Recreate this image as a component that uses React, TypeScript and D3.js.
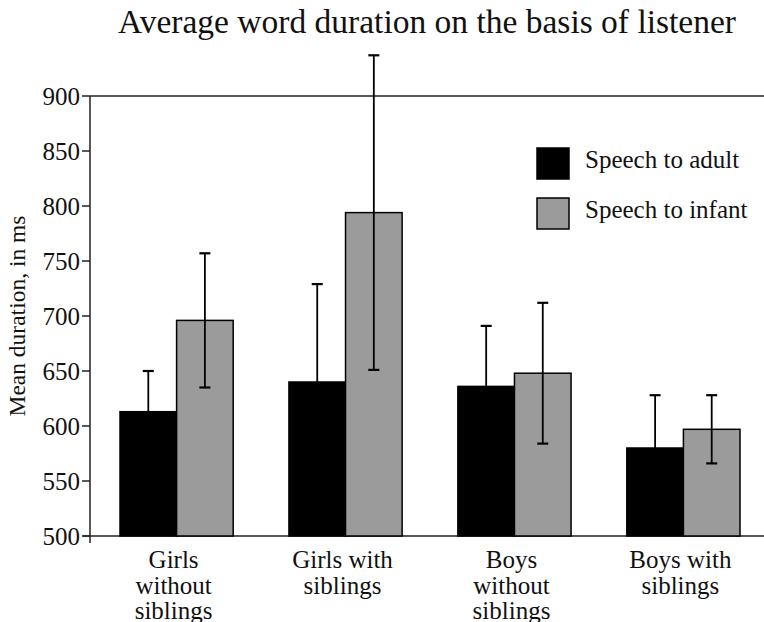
import React from "react";
import * as d3 from "d3";

const categories: string[][] = [
  ["Girls", "without", "siblings"],
  ["Girls with", "siblings"],
  ["Boys", "without", "siblings"],
  ["Boys with", "siblings"],
];
const categoryKeys = ["gwo", "gw", "bwo", "bw"];
const seriesNames = ["Speech to adult", "Speech to infant"];
const adultMeans = [613, 640, 636, 580];
const adultErr = [37, 89, 55, 48];
const infantMeans = [696, 794, 648, 597];
const infantErr = [61, 143, 64, 31];
const yTicks = [500, 550, 600, 650, 700, 750, 800, 850, 900];
const title = "Average word duration on the basis of listener";
const yLabel = "Mean duration, in ms";

const W = 764;
const H = 622;
const FONT = "'Liberation Serif', 'DejaVu Serif', serif";
const GRAY = "#9b9b9b";

export default function App() {
  const x0 = d3
    .scaleBand<string>()
    .domain(categoryKeys)
    .range([120, 740])
    .paddingInner(0.33)
    .paddingOuter(0);
  const x1 = d3
    .scaleBand<string>()
    .domain(seriesNames)
    .range([0, x0.bandwidth()])
    .padding(0);
  const y = d3.scaleLinear().domain([500, 900]).range([536, 96]);

  const series = [
    { name: seriesNames[0], means: adultMeans, errs: adultErr, fill: "#000000" },
    { name: seriesNames[1], means: infantMeans, errs: infantErr, fill: GRAY },
  ];
  const axisX = 90;
  const capHalf = 5.5;

  return (
    <svg
      width={W}
      height={H}
      style={{ position: "absolute", left: 0, top: 0, background: "#fff" }}
      fontFamily={FONT}
    >
      <text x={427} y={33} fontSize={33.5} textAnchor="middle" fill="#111">
        {title}
      </text>

      {/* frame lines */}
      <line x1={axisX} x2={W} y1={y(900)} y2={y(900)} stroke="#222" strokeWidth={1.5} />
      <line x1={axisX - 7} x2={W} y1={y(500)} y2={y(500)} stroke="#222" strokeWidth={1.5} />
      <line x1={axisX} x2={axisX} y1={y(900)} y2={543} stroke="#222" strokeWidth={1.5} />

      {/* y ticks */}
      {y.ticks(8).filter((t) => yTicks.includes(t)).map((t) => (
        <g key={t}>
          <line x1={axisX - 8} x2={axisX} y1={y(t)} y2={y(t)} stroke="#222" strokeWidth={1.5} />
          <text
            x={80}
            y={y(t)}
            dy="0.35em"
            fontSize={25}
            textAnchor="end"
            fill="#111"
          >
            {t}
          </text>
        </g>
      ))}

      <text
        transform={`translate(25,316) rotate(-90)`}
        fontSize={23.5}
        textAnchor="middle"
        fill="#111"
      >
        {yLabel}
      </text>

      {/* bars */}
      {categoryKeys.map((k, i) => (
        <g key={k} transform={`translate(${x0(k)},0)`}>
          {series.map((s) => (
            <rect
              key={s.name}
              x={x1(s.name)}
              y={y(s.means[i])}
              width={x1.bandwidth()}
              height={y(500) - y(s.means[i])}
              fill={s.fill}
              stroke="#000"
              strokeWidth={1.5}
            />
          ))}
          {series.map((s) => {
            const cx = (x1(s.name) as number) + x1.bandwidth() / 2;
            const hi = y(s.means[i] + s.errs[i]);
            const lo = y(s.means[i] - s.errs[i]);
            return (
              <g key={s.name + "err"} stroke="#000">
                <line x1={cx} x2={cx} y1={hi} y2={lo} strokeWidth={1.8} />
                <line x1={cx - capHalf} x2={cx + capHalf} y1={hi} y2={hi} strokeWidth={2.2} />
                <line x1={cx - capHalf} x2={cx + capHalf} y1={lo} y2={lo} strokeWidth={2.2} />
              </g>
            );
          })}
          {categories[i].map((line, j) => (
            <text
              key={j}
              x={x0.bandwidth() / 2 - 3}
              y={568 + j * 25.5}
              fontSize={25}
              textAnchor="middle"
              fill="#111"
            >
              {line}
            </text>
          ))}
        </g>
      ))}

      {/* legend */}
      {series.map((s, i) => (
        <g key={s.name} transform={`translate(537,${148 + i * 50})`}>
          <rect x={0} y={0} width={32} height={31} fill={s.fill} stroke="#000" strokeWidth={1.5} />
          <text x={48} y={20} fontSize={25} fill="#111">
            {s.name}
          </text>
        </g>
      ))}
    </svg>
  );
}
